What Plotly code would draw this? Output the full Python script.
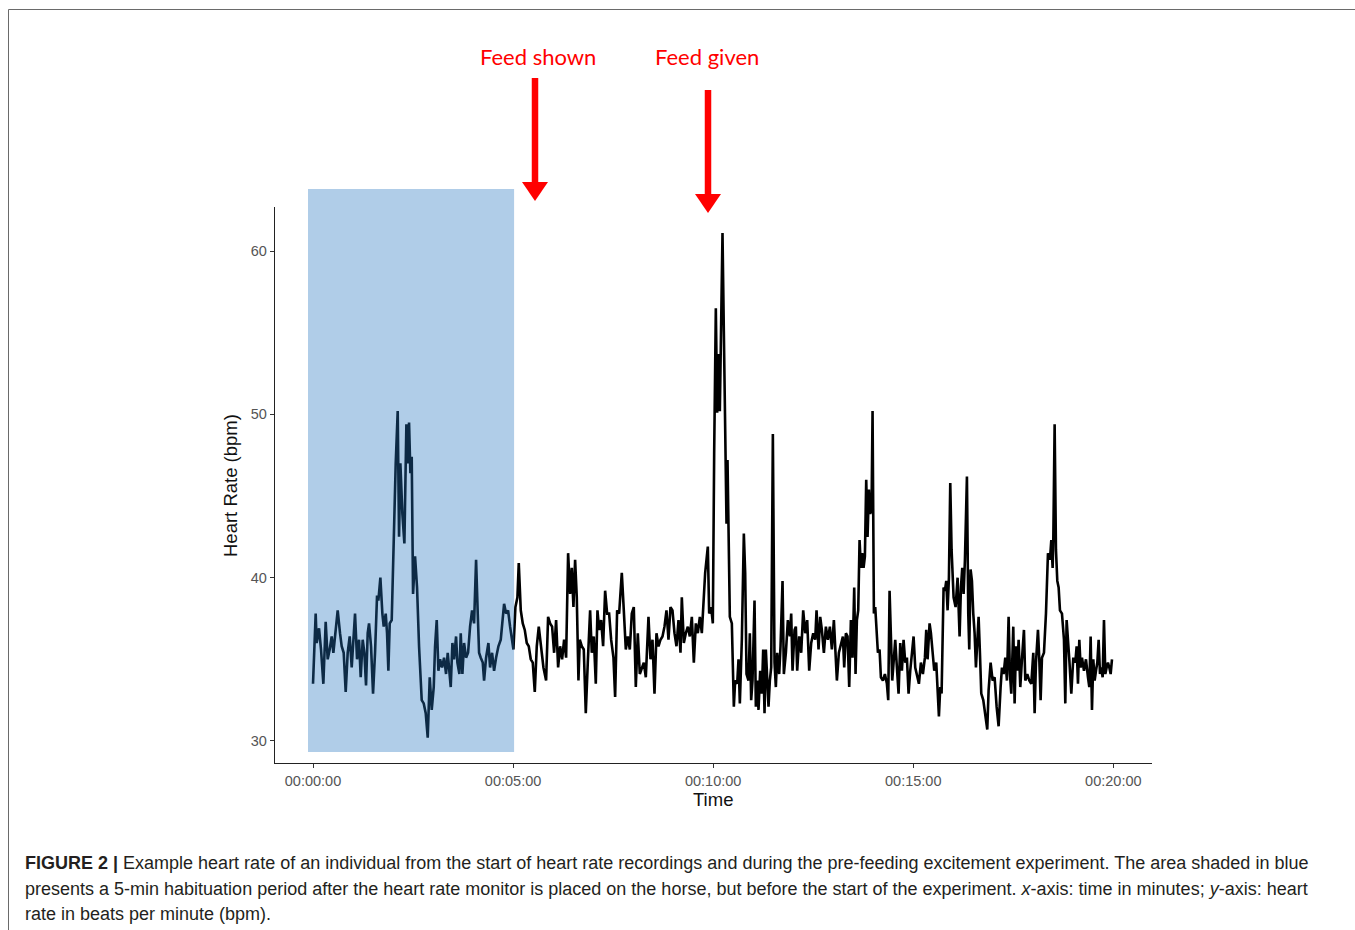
import plotly.graph_objects as go

# ---------------- data (time in seconds from start, heart rate in bpm) ----------------
seg1_t = [0, 4, 5.5, 9, 12, 15.5, 19, 22, 25, 28, 30.5, 34, 37, 40.5, 43, 46, 49, 52, 55, 58,
          60.5, 63, 66, 69, 71.5, 74.5, 77, 79.5, 82, 84, 87, 90, 93, 96, 98, 101, 104, 106, 109, 111,
          113, 115, 118, 121, 124, 127, 129, 131, 134, 137, 140, 142, 144, 146, 148, 150, 153, 156, 159, 163,
          166, 169, 172, 175, 178, 181]
seg1_hr = [33.5, 37.8, 36.0, 36.9, 35.6, 33.5, 37.3, 35.0, 35.6, 36.4, 35.4, 36.6, 38.0, 36.6, 35.8, 35.4, 33.0, 35.4, 36.4, 34.5,
           36.4, 37.8, 35.0, 36.2, 33.9, 36.2, 35.4, 33.4, 36.6, 37.2, 35.8, 32.9, 35.4, 38.9, 38.6, 40.0, 37.8, 37.0, 37.8, 36.6,
           34.3, 37.2, 37.4, 42.7, 47.0, 50.2, 42.5, 47.0, 43.9, 42.1, 49.4, 47.0, 49.5, 46.4, 47.4, 39.0, 41.3, 39.4, 35.8, 32.5,
           32.3, 31.7, 30.2, 33.9, 31.9, 33.3]

seg2_t = [183, 185.5, 188, 190.5, 193.5, 196.5, 199.5, 202, 204.5, 206.5, 209, 211.5, 214.5, 216.5, 219.5, 221.5, 224, 226.5, 229.5, 232.5,
          235.5, 238.5, 241.5, 244.5, 247, 249, 251.5, 254.5, 256.5, 259.5, 263, 265.5, 268.5, 271.5, 274.5, 278, 281.5, 284.5, 286.5, 289.5,
          292.5, 295.5, 298.5, 300.5, 303.5, 306.5, 308.5, 311.5, 314.5, 317.5, 320.5, 323.5, 326.5, 329.5, 332.5, 335.5, 338.5, 341.5, 345.5, 349.5,
          352.5, 355.5, 358.5, 361.5, 364.5, 367.5, 370.5, 373.5, 376.5, 379.5, 382.5]
seg2_hr = [35.8, 37.4, 34.3, 35.0, 34.5, 35.1, 34.1, 35.4, 34.3, 33.3, 36.0, 35.0, 36.4, 34.8, 34.1, 36.6, 34.1, 36.0, 35.1, 35.4,
           37.0, 38.0, 37.2, 41.1, 37.8, 35.4, 35.1, 34.8, 33.7, 35.1, 36.0, 34.5, 35.4, 34.3, 35.1, 35.8, 36.2, 37.4, 38.4, 37.8,
           38.0, 37.0, 36.2, 35.6, 38.2, 38.8, 40.9, 38.0, 37.2, 36.8, 36.0, 35.8, 35.0, 34.8, 33.0, 35.8, 37.0, 36.0, 34.5, 33.7,
           37.6, 37.2, 37.0, 35.4, 37.4, 34.5, 35.8, 35.0, 36.2, 35.1, 41.5]

seg3_t = [385.5, 388, 390.5, 393, 395.5, 398, 400, 403, 406, 409, 412, 415.5, 418, 421, 424, 426.5, 429, 432, 435, 438,
          441, 444, 447, 450.5, 453, 456, 459, 463, 466, 469, 472, 475, 478, 481, 484, 487, 490, 493, 496, 499,
          503, 506, 509, 512, 515, 518, 521, 524, 527, 530, 533, 536, 539, 542, 545, 548, 551, 553, 556, 559,
          562, 565, 568, 571, 574, 577, 580, 583, 586, 588]
seg3_hr = [39.0, 40.6, 38.2, 41.1, 38.8, 33.7, 36.2, 35.8, 35.6, 31.7, 34.8, 38.0, 35.4, 36.4, 33.5, 38.0, 36.8, 37.4, 35.8, 39.2,
           37.8, 37.8, 36.2, 35.1, 32.7, 38.0, 37.8, 40.3, 38.0, 35.6, 36.4, 35.6, 37.8, 38.2, 33.3, 36.6, 34.1, 34.5, 34.8, 33.9,
           37.6, 35.0, 36.2, 32.9, 36.6, 35.8, 36.2, 36.4, 37.0, 38.0, 36.2, 38.2, 38.0, 36.6, 35.8, 37.4, 35.4, 38.8, 36.0, 36.6,
           37.0, 36.4, 37.6, 34.8, 37.2, 36.6, 37.6, 36.6, 39.0, 40.3]

seg4_t = [592, 594, 597, 599.5, 601.5, 604, 606, 608, 610, 612, 614, 616, 618, 620, 621.5, 623, 625, 628, 631, 633,
          636, 638, 640, 643, 646, 648, 650, 653, 655, 657, 659, 662, 664, 666, 668, 670.5, 673, 675, 677, 679,
          681, 683, 685, 687, 689.5, 692, 694, 696, 699, 701, 704, 706, 709, 712, 715, 717, 719, 722, 724, 726,
          729, 732, 735, 738, 741, 744, 747, 750, 753, 755, 758, 760.5, 763, 766, 769, 772, 775, 778, 781]
seg4_hr = [41.9, 37.8, 38.2, 37.2, 47.6, 56.5, 50.1, 53.7, 50.2, 55.1, 61.1, 55.1, 47.6, 43.3, 47.2, 43.5, 37.6, 37.2, 32.1, 33.7,
           33.5, 35.0, 32.3, 36.2, 42.7, 40.3, 34.1, 33.7, 36.6, 32.5, 33.7, 38.6, 32.1, 33.7, 31.9, 34.3, 32.9, 35.6, 31.7, 35.6,
           33.3, 32.1, 33.7, 34.5, 48.8, 34.8, 33.3, 35.4, 34.1, 35.8, 39.8, 34.1, 35.4, 37.4, 36.4, 37.8, 34.3, 36.8, 37.0, 34.3,
           36.4, 35.4, 38.0, 36.6, 37.4, 34.3, 36.0, 36.6, 36.2, 38.0, 35.6, 37.6, 36.8, 35.4, 37.0, 36.2, 37.0, 35.6, 37.4]

seg5_t = [783, 785.5, 788.5, 791.5, 794.5, 796.5, 799, 801.5, 804, 806.5, 809, 811.5, 813.5, 815.5, 817.5, 819.5, 821.5, 823.5, 825.5, 827.5,
          829.5, 831.5, 833.5, 835.5, 837.5, 839, 841, 843, 845, 847, 849.5, 851.5, 854.5, 857.5, 860.5, 862.5, 864.5, 866.5, 868.5, 870.5,
          873, 875.5, 878, 880.5, 883, 885.5, 888, 890.5, 893, 895.5, 898, 900.5, 903, 905.5, 908.5, 911.5, 914.5, 917.5, 919.5, 921.5,
          924.5, 926.5, 929.5, 931.5, 934.5, 936.5, 938.5, 940.5, 942.5, 945.5, 947.5, 949.5, 951.5, 953.5, 955.5, 957.5, 960.5, 963.5, 966.5, 969.5,
          971.5, 973.5, 975.5, 977.5, 980.5, 982.5]
seg5_hr = [35.4, 33.7, 35.4, 36.0, 36.4, 34.5, 36.6, 36.4, 33.3, 37.4, 35.1, 39.4, 34.1, 37.4, 38.0, 42.3, 40.6, 41.5, 40.6, 41.3,
           46.0, 42.5, 45.4, 43.9, 44.3, 50.2, 37.8, 38.2, 36.6, 35.4, 35.6, 33.9, 33.7, 34.1, 33.5, 32.5, 39.2, 36.0, 33.7, 34.8,
           36.2, 34.5, 32.9, 36.0, 34.3, 36.2, 34.8, 35.1, 32.9, 34.3, 35.4, 36.4, 34.5, 34.1, 33.5, 34.8, 34.1, 35.1, 36.8, 35.0,
           37.2, 36.6, 35.4, 34.3, 34.8, 32.9, 31.5, 33.3, 32.9, 39.4, 39.2, 39.8, 38.0, 40.0, 45.8, 41.7, 38.8, 38.2, 40.0, 36.4,
           39.4, 40.6, 39.0, 41.1, 46.2, 37.8]

seg6_t = [984, 986, 988, 990, 992, 994, 996, 998, 1000, 1002, 1005, 1008, 1011, 1013, 1016, 1019, 1022, 1025, 1028, 1031,
          1033, 1035.5, 1038, 1040.5, 1043, 1045, 1047, 1050, 1052, 1054, 1056, 1058, 1060.5, 1063, 1066, 1068, 1071, 1074, 1077, 1080,
          1082, 1084, 1087, 1089, 1091, 1093, 1096, 1099, 1102, 1105, 1107, 1109, 1110, 1112, 1114, 1116, 1118, 1120, 1123, 1126,
          1128, 1130, 1132, 1134, 1137, 1140, 1143, 1145, 1147, 1149, 1151, 1153, 1156, 1159, 1162, 1164, 1166, 1168, 1170, 1172,
          1174, 1176, 1178, 1180, 1182, 1184, 1186, 1188, 1190, 1192, 1194, 1196, 1198]
seg6_hr = [35.6, 40.5, 39.8, 37.8, 36.6, 34.5, 36.6, 37.6, 35.4, 32.9, 32.5, 31.7, 30.7, 33.1, 34.8, 33.7, 33.9, 32.1, 30.9, 33.3,
           34.5, 34.1, 35.1, 33.7, 37.6, 34.1, 32.9, 37.0, 32.3, 35.8, 34.3, 36.2, 33.3, 35.0, 36.8, 33.7, 34.1, 33.7, 33.5, 35.4,
           31.7, 34.8, 36.8, 35.0, 32.5, 35.1, 35.4, 37.8, 41.5, 41.1, 42.3, 40.6, 42.3, 49.4, 41.7, 39.8, 39.4, 38.0, 37.8, 36.2,
           32.3, 37.4, 35.8, 35.0, 32.9, 35.1, 34.8, 35.8, 33.5, 36.2, 34.5, 35.1, 34.3, 35.0, 33.9, 33.3, 36.4, 31.9, 35.0, 33.7,
           34.3, 34.8, 36.2, 34.1, 34.5, 33.9, 37.4, 34.1, 34.5, 34.8, 34.5, 34.1, 35.0]

x_tick_vals = [0, 300, 600, 900, 1200]
x_tick_labels = ["00:00:00", "00:05:00", "00:10:00", "00:15:00", "00:20:00"]
y_tick_vals = [30, 40, 50, 60]
habituation_period_s = [-7.5, 301.5]
event_labels = ["Feed shown", "Feed given"]

time_s = seg1_t + seg2_t + seg3_t + seg4_t + seg5_t + seg6_t
heart_rate = seg1_hr + seg2_hr + seg3_hr + seg4_hr + seg5_hr + seg6_hr
assert len(time_s) == len(heart_rate), (len(time_s), len(heart_rate))

# ---------------- layout geometry (pixels) ----------------
W, H = 1355, 930
L, R, T, B = 275, 1152, 207, 763
PW, PH = R - L, B - T


def px(xp):
    return (xp - L) / PW


def py(yp):
    return (B - yp) / PH


fig = go.Figure()
fig.add_trace(go.Scatter(x=time_s, y=heart_rate, mode="lines",
                         line=dict(color="black", width=2.6), hoverinfo="skip",
                         showlegend=False))

shapes = []
# habituation shading (above the line, semi-transparent)
shapes.append(dict(type="rect", xref="x", yref="paper",
                   x0=habituation_period_s[0], x1=habituation_period_s[1],
                   y0=py(752), y1=py(189), fillcolor="rgb(36,117,192)", opacity=0.36,
                   line=dict(width=0), layer="above"))

# red arrows
red = "#ff0000"
arrow_px = [(535, 78, 201), (708, 90, 213)]
for (cx, ytop, ytip) in arrow_px:
    head_h, head_w = 19, 13
    shapes.append(dict(type="line", xref="paper", yref="paper",
                       x0=px(cx), x1=px(cx), y0=py(ytop), y1=py(ytip - head_h + 2),
                       line=dict(color=red, width=6.5), layer="above"))
    shapes.append(dict(type="path", xref="paper", yref="paper",
                       path="M {a},{b} L {c},{b} L {d},{e} Z".format(
                           a=px(cx - head_w), b=py(ytip - head_h), c=px(cx + head_w),
                           d=px(cx), e=py(ytip)),
                       fillcolor=red, line=dict(color=red, width=0), layer="above"))

# figure frame
shapes.append(dict(type="rect", xref="paper", yref="paper",
                   x0=px(8.5), x1=px(1400), y0=py(9.5), y1=py(1000),
                   line=dict(color="#6a6a6a", width=1), fillcolor="rgba(0,0,0,0)", layer="below"))

annotations = []
label_px = [538, 707]
for lab, lx in zip(event_labels, label_px):
    annotations.append(dict(text=lab, xref="paper", yref="paper", x=px(lx), y=py(57),
                            xanchor="center", yanchor="middle", showarrow=False,
                            font=dict(family="Lato", size=22, color=red)))

# axis titles
annotations.append(dict(text="Time", xref="paper", yref="paper", x=px(713), y=py(799),
                        xanchor="center", yanchor="middle", showarrow=False,
                        font=dict(family="Liberation Sans", size=18.5, color="#111")))
annotations.append(dict(text="Heart Rate (bpm)", xref="paper", yref="paper", x=px(230), y=py(486),
                        xanchor="center", yanchor="middle", showarrow=False, textangle=-90,
                        font=dict(family="Liberation Sans", size=18.5, color="#111")))

caption_lines = [
    "<b>FIGURE 2 |</b> Example heart rate of an individual from the start of heart rate recordings and during the pre-feeding excitement experiment. The area shaded in blue",
    "presents a 5-min habituation period after the heart rate monitor is placed on the horse, but before the start of the experiment. <i>x</i>-axis: time in minutes; <i>y</i>-axis: heart",
    "rate in beats per minute (bpm).",
]
for line, ly in zip(caption_lines, [863, 889, 914]):
    annotations.append(dict(text=line, xref="paper", yref="paper", x=px(24), y=py(ly),
                            xanchor="left", yanchor="middle", showarrow=False, borderpad=0,
                            font=dict(family="Liberation Sans", size=18, color="#231f20")))

fig.update_layout(
    width=W, height=H, autosize=False,
    margin=dict(l=L, r=W - R, t=T, b=H - B, pad=0),
    paper_bgcolor="white", plot_bgcolor="white",
    shapes=shapes, annotations=annotations,
    font=dict(family="Liberation Sans"),
    xaxis=dict(range=[-57, 1258], tickvals=x_tick_vals, ticktext=x_tick_labels,
               showgrid=False, zeroline=False, showline=True, linecolor="#222", linewidth=1.3,
               ticks="outside", ticklen=4, tickwidth=1, tickcolor="#333",
               tickfont=dict(family="Liberation Sans", size=14.5, color="#555")),
    yaxis=dict(range=[28.65, 62.7], tickvals=y_tick_vals,
               showgrid=False, zeroline=False, showline=True, linecolor="#222", linewidth=1.3,
               ticks="outside", ticklen=4, tickwidth=1, tickcolor="#333",
               tickfont=dict(family="Liberation Sans", size=14.5, color="#555")),
)

fig.write_html("out.html", config={"displayModeBar": False},
               post_script="document.body.style.margin='0';")
